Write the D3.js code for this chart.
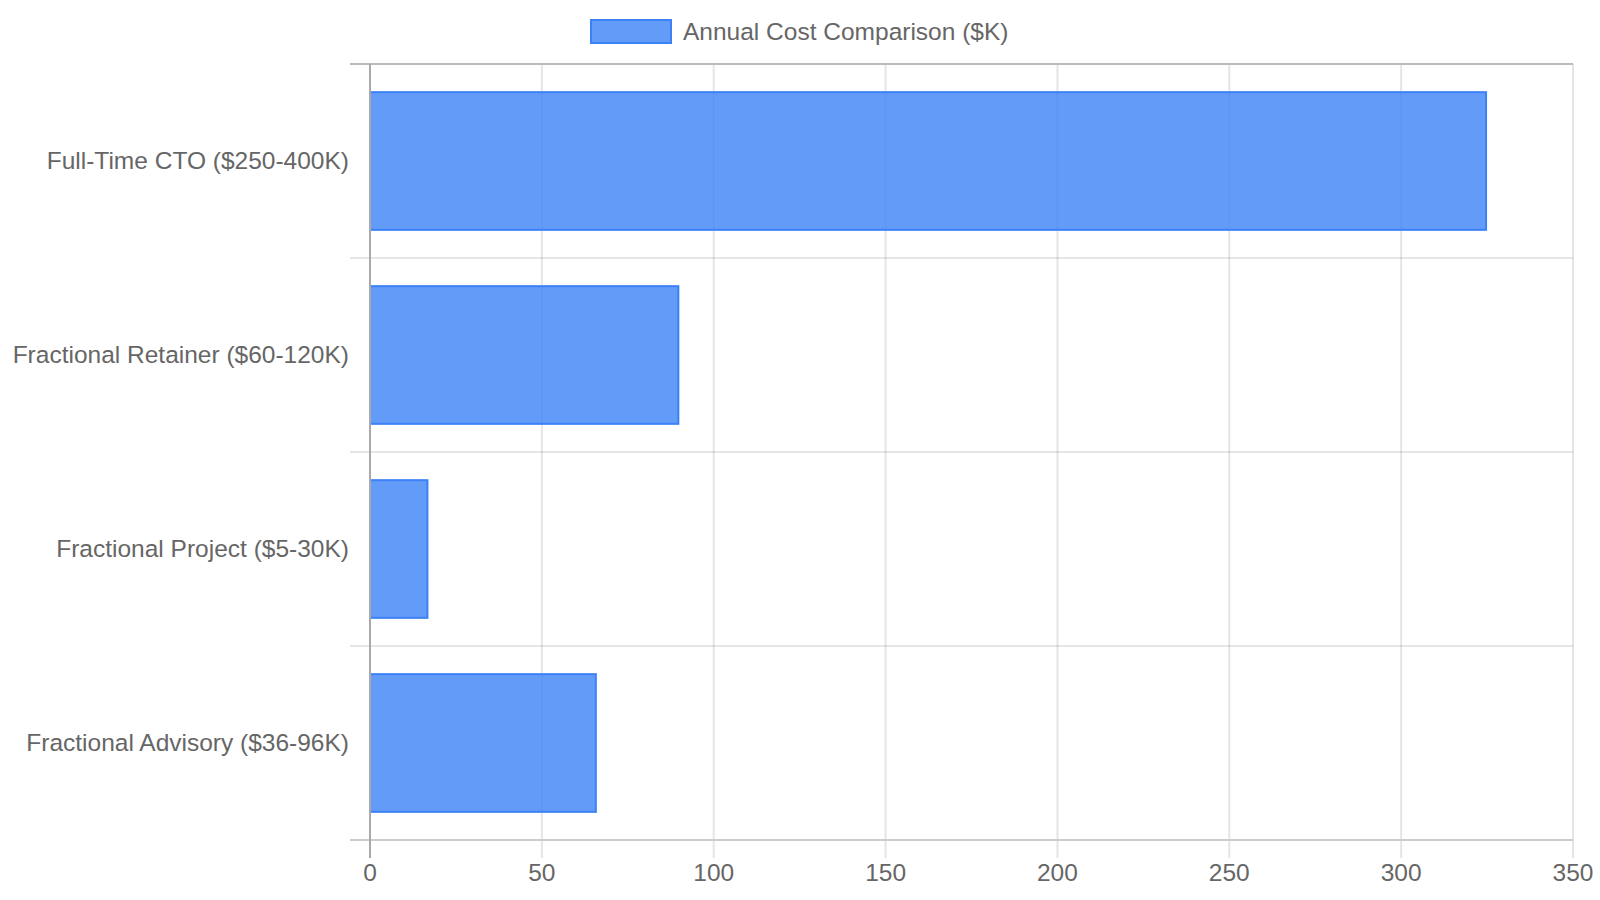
<!DOCTYPE html>
<html>
  <head>
  <title>Annual Cost Comparison</title>
  <style>
    body, html {
      margin: 0;
      padding: 0;
      background: #fff;
    }
    svg text {
      font-family: "Liberation Sans", Arial, sans-serif;
      fill: #666;
    }
  </style>
  </head>
  <body>
    <svg id="svg" width="1600" height="900"></svg>
  <script src="https://cdn.jsdelivr.net/npm/d3@7"></script>
  <script>
    const categories = [
      "Full-Time CTO ($250-400K)",
      "Fractional Retainer ($60-120K)",
      "Fractional Project ($5-30K)",
      "Fractional Advisory ($36-96K)"
    ]
    const costs = [325, 90, 17, 66]
    const xTicks = [0, 50, 100, 150, 200, 250, 300, 350]
    const seriesLabel = "Annual Cost Comparison ($K)"

    function renderChart() {
      const data = categories.map((c, i) => ({ name: c, value: costs[i] }))

      const margin = { top: 64, right: 27, bottom: 60, left: 370 }
      const width = 1600 - (margin.left + margin.right)
      const height = 900 - (margin.top + margin.bottom)

      const xScale = d3.scaleLinear()
        .domain([0, 350])
        .range([margin.left, margin.left + width])

      const yScale = d3.scaleBand()
        .domain(categories)
        .range([margin.top, margin.top + height])

      const svg = d3.select('#svg')
      const fillColor = "rgba(59,130,246,0.8)"
      const lineColor = "#3b82f6"
      const fontSize = "24.5px"

      // vertical grid lines + tick marks below axis
      svg.append("g")
        .selectAll("line")
        .data(xTicks)
        .enter().append("line")
        .attr("x1", d => xScale(d))
        .attr("x2", d => xScale(d))
        .attr("y1", margin.top)
        .attr("y2", margin.top + height + 18)
        .attr("stroke", "rgba(0,0,0,0.1)")
        .attr("stroke-width", 2)

      // horizontal grid lines at band edges
      const edges = categories.map(c => yScale(c)).concat([margin.top + height])
      svg.append("g")
        .selectAll("line")
        .data(edges)
        .enter().append("line")
        .attr("x1", margin.left - 20)
        .attr("x2", margin.left + width)
        .attr("y1", d => d)
        .attr("y2", d => d)
        .attr("stroke", (d, i) => i === 0 ? "#bbb" : (i === edges.length - 1 ? "#ccc" : "rgba(0,0,0,0.1)"))
        .attr("stroke-width", 2)

      // bars
      const barH = yScale.bandwidth() * 0.72
      svg.selectAll(".bar")
        .data(data)
        .enter().append("rect")
        .attr("class", "bar")
        .attr("x", xScale(0))
        .attr("y", d => yScale(d.name) + (yScale.bandwidth() - barH) / 2 + 1)
        .attr("width", d => xScale(d.value) - xScale(0) - 1)
        .attr("height", barH - 2)
        .attr("fill", fillColor)
        .attr("stroke", lineColor)
        .attr("stroke-width", 2)

      // y axis line
      svg.append("line")
        .attr("x1", xScale(0))
        .attr("x2", xScale(0))
        .attr("y1", margin.top)
        .attr("y2", margin.top + height + 18)
        .attr("stroke", "#aaa")
        .attr("stroke-width", 2)

      // x tick labels
      svg.append("g")
        .selectAll("text")
        .data(xTicks)
        .enter().append("text")
        .attr("x", d => xScale(d))
        .attr("y", margin.top + height + 24)
        .attr("dy", "0.71em")
        .attr("text-anchor", "middle")
        .style("font-size", fontSize)
        .text(d => d)

      // category labels
      svg.append("g")
        .selectAll("text")
        .data(categories)
        .enter().append("text")
        .attr("x", margin.left - 21)
        .attr("y", d => yScale(d) + yScale.bandwidth() / 2 - 1)
        .attr("dy", "0.35em")
        .attr("text-anchor", "end")
        .style("font-size", fontSize)
        .text(d => d)

      // legend
      const legend = svg.append("g")
        .attr("class", "legend")
      legend.append("rect")
        .attr("x", 591)
        .attr("y", 20)
        .attr("width", 80)
        .attr("height", 23)
        .attr("fill", fillColor)
        .attr("stroke", lineColor)
        .attr("stroke-width", 2)
      legend.append("text")
        .attr("x", 683)
        .attr("y", 31)
        .attr("dy", "0.35em")
        .style("font-size", fontSize)
        .text(seriesLabel)
    }
    renderChart()
  </script>
  </body>
</html>
